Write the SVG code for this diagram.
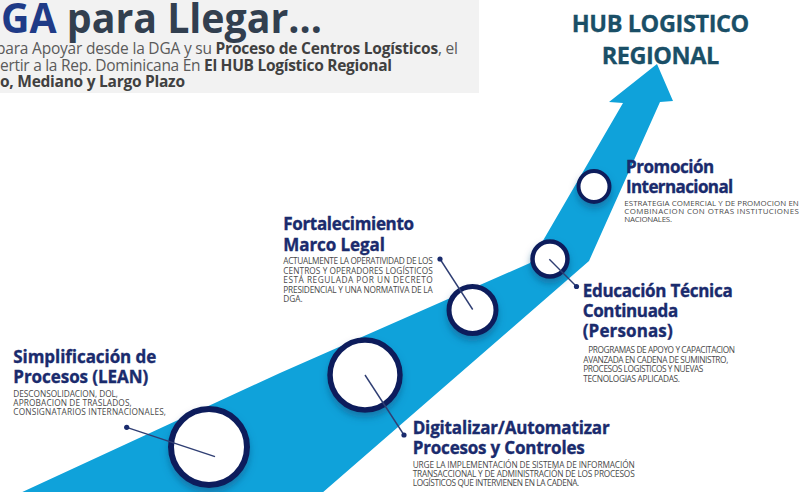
<svg xmlns="http://www.w3.org/2000/svg" width="800" height="492" viewBox="0 0 800 492">
<style>
.f{font-family:"Open Sans","Noto Sans","DejaVu Sans",sans-serif}
.t{font-family:"Open Sans","Noto Sans","DejaVu Sans",sans-serif;font-weight:700;font-size:17px;fill:#1a2b6d;stroke:#1a2b6d;stroke-width:0.35}
.b{font-family:"Open Sans","Noto Sans","DejaVu Sans",sans-serif;font-size:8.3px;fill:#4a4a4a}
.bp{font-size:7.9px}
.c{fill:#ffffff;stroke:#0f1f5c}
.ln{stroke:#2f3e73;stroke-width:1.4;fill:none}
.dot{fill:#1a2b6d}
.sub{font-size:15.5px;fill:#5a5a5a}
.sb{font-weight:700;fill:#404040}
.hub{font-family:"Open Sans","Noto Sans","DejaVu Sans",sans-serif;font-weight:700;font-size:23.5px;fill:#1a4f67;stroke:#1a4f67;stroke-width:0.3}
</style>
<defs>
<filter id="sh" x="-40%" y="-40%" width="180%" height="190%">
<feDropShadow dx="0" dy="5" stdDeviation="3.5" flood-color="#0b4f7e" flood-opacity="0.5"/>
</filter>
</defs>
<rect width="800" height="492" fill="#ffffff"/>
<g id="header">
<rect x="0" y="0" width="479" height="93" fill="#f2f2f2"/>
<text class="f" x="1" y="33" font-size="42" font-weight="700" textLength="321" lengthAdjust="spacingAndGlyphs"><tspan fill="#1f3b87">GA</tspan><tspan fill="#323f4f"> para Llegar...</tspan></text>
<text class="f sub" x="-4" y="54" textLength="462">para Apoyar desde la DGA y su <tspan class="sb">Proceso de Centros Logísticos</tspan>, el</text>
<text class="f sub" x="0" y="70.7" textLength="392">ertir a la Rep. Dominicana En <tspan class="sb">El HUB Logístico Regional</tspan></text>
<text class="f sub sb" x="0" y="87.3" textLength="185">o, Mediano y Largo Plazo</text>
</g>
<g id="hub-title">
<text class="hub" x="660.5" y="31.7" text-anchor="middle" textLength="177.6">HUB LOGISTICO</text>
<text class="hub" x="660.5" y="64.3" text-anchor="middle" textLength="117.6">REGIONAL</text>
</g>
<g id="arrow">
<polygon points="5,500 280,373 530,263 623,103 609,102 657,64 673,101 660,102 589,261 314,500" fill="#0fa2da"/>
</g>
<g id="simplificacion">
<circle class="c" cx="209" cy="447" r="38" stroke-width="6" filter="url(#sh)"/>
<text class="t" x="13.3" y="363.3" textLength="143">Simplificación de</text>
<text class="t" x="13.3" y="383.3" textLength="135">Procesos (LEAN)</text>
<text class="b" x="13.3" y="397" textLength="104.7">DESCONSOLIDACION, DOL,</text>
<text class="b" x="13.3" y="405.8" textLength="118.4">APROBACION DE TRASLADOS,</text>
<text class="b" x="13.3" y="414.6" textLength="152.7">CONSIGNATARIOS INTERNACIONALES,</text>
</g>
<g id="digitalizar">
<circle class="c" cx="365" cy="375" r="35" stroke-width="5.5" filter="url(#sh)"/>
<text class="t" x="412.7" y="434.3" textLength="197">Digitalizar/Automatizar</text>
<text class="t" x="412.7" y="454.3" textLength="172">Procesos y Controles</text>
<text class="b" x="412.7" y="468" textLength="222">URGE LA IMPLEMENTACIÓN DE SISTEMA DE INFORMACIÓN</text>
<text class="b" x="412.7" y="477" textLength="222">TRANSACCIONAL Y DE ADMINISTRACIÓN DE LOS PROCESOS</text>
<text class="b" x="412.7" y="485.8" textLength="166.6">LOGÍSTICOS QUE INTERVIENEN EN LA CADENA.</text>
</g>
<g id="fortalecimiento">
<circle class="c" cx="472.5" cy="310" r="23.5" stroke-width="5" filter="url(#sh)"/>
<text class="t" x="283.3" y="230" textLength="130.7">Fortalecimiento</text>
<text class="t" x="283.3" y="250.7" textLength="101.7">Marco Legal</text>
<text class="b" x="283.3" y="264" textLength="149.4">ACTUALMENTE LA OPERATIVIDAD DE LOS</text>
<text class="b" x="283.3" y="273.6" textLength="149.4">CENTROS Y OPERADORES LOGÍSTICOS</text>
<text class="b" x="283.3" y="283.2" textLength="149.4">ESTÁ REGULADA POR UN DECRETO</text>
<text class="b" x="283.3" y="292.8" textLength="149.4">PRESIDENCIAL Y UNA NORMATIVA DE LA</text>
<text class="b" x="283.3" y="302.4">DGA.</text>
</g>
<g id="educacion">
<circle class="c" cx="550" cy="259" r="17.5" stroke-width="4.5" filter="url(#sh)"/>
<text class="t" x="582.7" y="296.7" textLength="150">Educación Técnica</text>
<text class="t" x="582.7" y="316.7" textLength="95.6">Continuada</text>
<text class="t" x="582.7" y="336.7" textLength="90">(Personas)</text>
<text class="b" x="588.3" y="353" textLength="146.7">PROGRAMAS DE APOYO Y CAPACITACION</text>
<text class="b" x="583.3" y="362.5" textLength="145">AVANZADA EN CADENA DE SUMINISTRO,</text>
<text class="b" x="583.3" y="372" textLength="120">PROCESOS LOGISTICOS Y NUEVAS</text>
<text class="b" x="583.3" y="381.5" textLength="96.7">TECNOLOGIAS APLICADAS.</text>
</g>
<g id="promocion">
<circle class="c" cx="594" cy="186.5" r="15.5" stroke-width="4" filter="url(#sh)"/>
<text class="t" x="626" y="172.7" textLength="88.3">Promoción</text>
<text class="t" x="626" y="192.7" textLength="107.3">Internacional</text>
<text class="b bp" x="624.3" y="205.7" textLength="174.5">ESTRATEGIA COMERCIAL Y DE PROMOCION EN</text>
<text class="b bp" x="624.3" y="213.9" textLength="174.5">COMBINACION CON OTRAS INSTITUCIONES</text>
<text class="b bp" x="624.3" y="222.1" textLength="47.7">NACIONALES.</text>
</g>
<g id="connectors">
<line class="ln" x1="126.7" y1="427.3" x2="215" y2="456.7"/>
<circle class="dot" cx="126.7" cy="427.3" r="2.6"/>
<line class="ln" x1="440" y1="259" x2="472.7" y2="309.5"/>
<circle class="dot" cx="440" cy="259" r="2.6"/>
<line class="ln" x1="365" y1="375" x2="404" y2="435"/>
<circle class="dot" cx="404" cy="435" r="2.6"/>
<line class="ln" x1="549.3" y1="259.3" x2="576.5" y2="286.5"/>
<circle class="dot" cx="576.5" cy="286.5" r="2.6"/>
</g>
</svg>
